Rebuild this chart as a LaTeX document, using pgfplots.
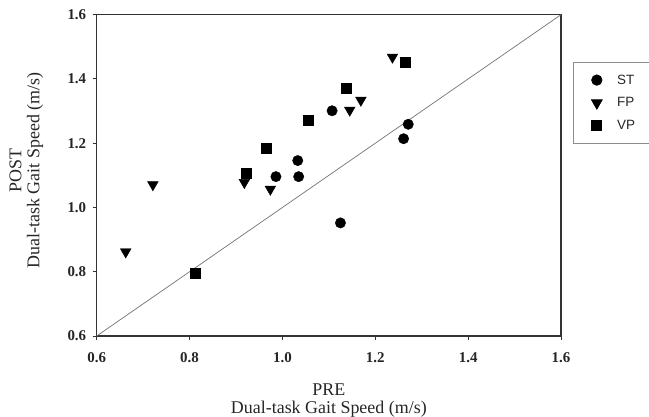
\documentclass[border=0pt]{standalone}
\usepackage{fontspec}
\setmainfont{Liberation Serif}
\newfontfamily\lsans{Liberation Sans}
\usepackage{pgfplots}
\pgfplotsset{compat=1.18}
\begin{document}
\begin{tikzpicture}
\useasboundingbox (-96.7bp,-81bp) rectangle (552.3bp,336bp);
\begin{axis}[
  scale only axis,
  width=464.3bp, height=321.3bp,
  at={(0,0)}, anchor=south west,
  xmin=0.6, xmax=1.6, ymin=0.6, ymax=1.6,
  xtick={0.6,0.8,...,1.6}, ytick={0.6,0.8,...,1.6},
  tick pos=left, tick align=outside,
  major tick length=4bp,
  axis line style={draw=black!80, line width=1.1bp},
  tick style={draw=black!80, line width=1bp},
  /pgf/number format/assume math mode=true,
  /pgf/number format/.cd, fixed, fixed zerofill, precision=1, /pgfplots/.cd,
  ticklabel style={font=\bfseries\fontsize{15}{15}\selectfont, text=black!85},
  xticklabel style={yshift=-9bp},
  yticklabel style={xshift=-3bp},
  xlabel={PRE\\Dual-task Gait Speed (m/s)},
  ylabel={POST\\Dual-task Gait Speed (m/s)},
  label style={font=\fontsize{18}{18}\selectfont, align=center, text=black!85},
  xlabel style={at={(axis description cs:0.5,0)}, anchor=north, yshift=-44bp},
  ylabel style={at={(axis description cs:0,0.5)}, anchor=south, xshift=5bp, yshift=50bp},
  legend style={at={(1.026,0.852)}, anchor=north west, draw=black!45, line width=0.8bp,
    font=\lsans\fontsize{13.5}{13.5}\selectfont, text=black!85,
    row sep=8bp, column sep=13bp, inner xsep=18bp, inner ysep=10bp},
  legend cell align=left,
  clip=false,
]
\addplot[draw=black!55, line width=0.7bp, forget plot] coordinates {(0.6,0.6) (1.6,1.6)};
\addplot[only marks, mark=*, mark size=5.2bp, mark options={fill=black, draw=black}] coordinates {
  (0.986,1.096) (1.033,1.146) (1.035,1.096) (1.107,1.301) (1.125,0.952) (1.271,1.259) (1.261,1.214)};
\addlegendentry{\makebox[40bp][l]{ST}}
\addplot[only marks, mark=triangle*, mark size=6.2bp, mark options={rotate=180, fill=black, draw=black}] coordinates {
  (0.6625,0.862) (0.721,1.071) (0.918,1.078) (0.974,1.057) (1.145,1.303) (1.169,1.334) (1.237,1.468)};
\addlegendentry{\makebox[40bp][l]{FP}}
\addplot[only marks, mark=square*, mark size=5bp, mark options={fill=black, draw=black}] coordinates {
  (0.812,0.794) (0.923,1.107) (0.965,1.186) (1.055,1.272) (1.137,1.370) (1.264,1.451)};
\addlegendentry{\makebox[40bp][l]{VP}}
\end{axis}
\end{tikzpicture}
\end{document}
